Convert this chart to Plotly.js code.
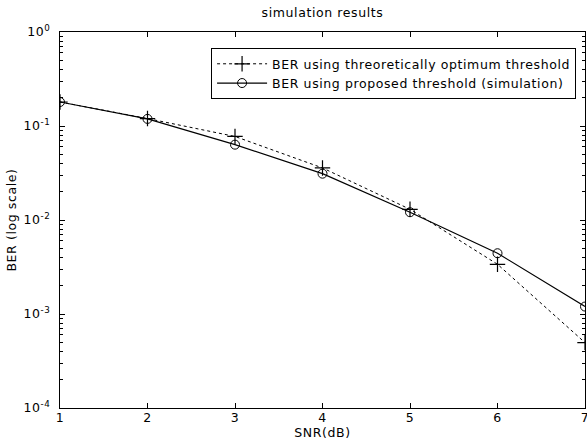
<!DOCTYPE html>
<html><head><meta charset="utf-8">
<script src="https://cdn.plot.ly/plotly-3.0.1.min.js"></script>
<style>html,body{margin:0;padding:0;background:#fff;}#c{width:587px;height:448px;}
svg text{letter-spacing:0.6px;}</style>
</head><body><div id="c"></div>
<script>
var snr = [1, 2, 3, 4, 5, 6, 7];
var berOptimum = [0.18, 0.12, 0.0774, 0.0358, 0.0130, 0.00338, 0.000496];
var berProposed = [0.18, 0.119, 0.0633, 0.0311, 0.0121, 0.00443, 0.0012];
var nameOptimum = 'BER using threoretically optimum threshold';
var nameProposed = 'BER using proposed threshold (simulation)';
var yMajor = [1e-4, 1e-3, 1e-2, 1e-1, 1];
var yMajorText = ['10<sup>-4</sup>', '10<sup>-3</sup>', '10<sup>-2</sup>', '10<sup>-1</sup>', '10<sup>0</sup>'];
var yMinor = [];
for (var d = -4; d < 0; d++) { for (var k = 2; k <= 9; k++) { yMinor.push(k * Math.pow(10, d)); } }

var font = {family: 'DejaVu Sans, Arial, sans-serif', size: 12.5, color: '#000'};
var traces = [
  {x: snr, y: berOptimum, name: nameOptimum, mode: 'lines+markers', type: 'scatter',
   line: {color: '#000', width: 1, dash: '3px,3px'},
   marker: {symbol: 'cross-thin-open', size: 11, color: '#000', line: {color: '#000', width: 1.2}}},
  {x: snr, y: berProposed, name: nameProposed, mode: 'lines+markers', type: 'scatter',
   line: {color: '#000', width: 1.2},
   marker: {symbol: 'circle-open', size: 9, color: '#000', line: {color: '#000', width: 1}}}
];
var layout = {
  width: 587, height: 448,
  margin: {l: 60, r: 2, t: 32, b: 40},
  paper_bgcolor: '#fff', plot_bgcolor: '#fff',
  font: font,
  showlegend: true,
  title: {text: 'simulation results', x: 0.5, xref: 'paper', y: 1, yref: 'container', yanchor: 'top', pad: {t: 8}, font: font},
  xaxis: {range: [1, 7], tickvals: snr, ticks: 'inside', ticklen: 5, tickcolor: '#000', ticklabeloverflow: 'allow',
          showline: true, linecolor: '#000', linewidth: 1, mirror: 'allticks', showgrid: false, zeroline: false,
          ticklabelstandoff: -2,
          title: {text: 'SNR(dB)', font: font, standoff: 2}, tickfont: font},
  yaxis: {type: 'log', range: [-4, 0], tickmode: 'array', tickvals: yMajor, ticktext: yMajorText,
          ticks: 'inside', ticklen: 5, tickcolor: '#000', ticklabelstandoff: 6,
          minor: {tickmode: 'array', tickvals: yMinor, ticks: 'inside', ticklen: 3, tickcolor: '#000', showgrid: false},
          showline: true, linecolor: '#000', linewidth: 1, mirror: 'allticks', showgrid: false, zeroline: false,
          title: {text: 'BER (log scale)', font: font, standoff: 4}, tickfont: font},
  legend: {x: 0.983, y: 0.957, xanchor: 'right', yanchor: 'top', bgcolor: '#fff',
           bordercolor: '#000', borderwidth: 1, font: font, itemwidth: 50, tracegroupgap: 0}
};
Plotly.newPlot('c', traces, layout, {staticPlot: true});
</script></body></html>
